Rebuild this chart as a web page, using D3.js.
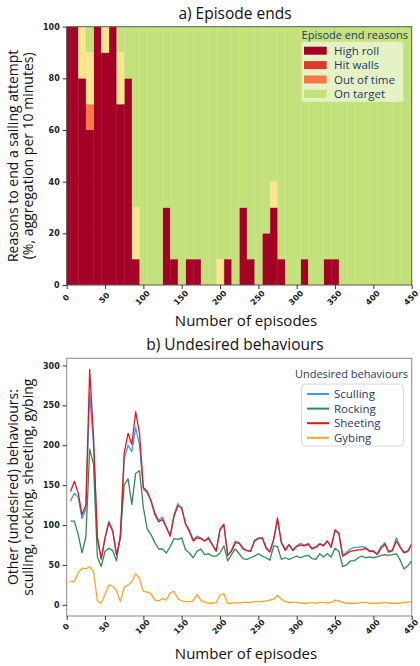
<!DOCTYPE html>
<html>
<head>
<meta charset="utf-8">
<script src="https://cdn.jsdelivr.net/npm/d3@7"></script>
<style>
  body { margin: 0; background: #fff; }
  text { font-family: "Open Sans", "Noto Sans", sans-serif; }
</style>
</head>
<body>
<svg id="chart" width="420" height="666"></svg>
<script>
// a) episode end reasons, one bar per 10 episodes (%)
const binEpisodes = [0, 10, 20, 30, 40, 50, 60, 70, 80, 90,
  100, 110, 120, 130, 140, 150, 160, 170, 180, 190,
  200, 210, 220, 230, 240, 250, 260, 270, 280, 290,
  300, 310, 320, 330, 340, 350, 360, 370, 380, 390,
  400, 410, 420, 430, 440, 450];
const highRoll = [100, 100, 80, 60, 100, 90, 100, 70, 80, 10,
  0, 0, 0, 30, 10, 0, 10, 10, 0, 0,
  0, 10, 0, 30, 10, 0, 20, 30, 10, 0,
  0, 10, 0, 0, 10, 10, 0, 0, 0, 0,
  0, 0, 0, 0, 0, 0];
const hitWalls = [0, 0, 0, 0, 0, 0, 0, 0, 0, 0,
  0, 0, 0, 0, 0, 0, 0, 0, 0, 0,
  0, 0, 0, 0, 0, 0, 0, 0, 0, 0,
  0, 0, 0, 0, 0, 0, 0, 0, 0, 0,
  0, 0, 0, 0, 0, 0];
const outOfTime = [0, 0, 0, 10, 0, 0, 0, 0, 0, 0,
  0, 0, 0, 0, 0, 0, 0, 0, 0, 0,
  0, 0, 0, 0, 0, 0, 0, 0, 0, 0,
  0, 0, 0, 0, 0, 0, 0, 0, 0, 0,
  0, 0, 0, 0, 0, 0];
// pale yellow band in the bars, not listed in the legend
const otherEnds = [0, 0, 20, 20, 0, 10, 0, 20, 0, 20,
  0, 0, 0, 0, 0, 0, 0, 0, 0, 0,
  10, 0, 0, 0, 0, 0, 0, 10, 0, 0,
  0, 0, 0, 0, 0, 0, 0, 0, 0, 0,
  0, 0, 0, 0, 0, 0];
const onTarget = [0, 0, 0, 10, 0, 0, 0, 10, 20, 70,
  100, 100, 100, 70, 90, 100, 90, 90, 100, 100,
  90, 90, 100, 70, 90, 100, 80, 60, 90, 100,
  100, 90, 100, 100, 90, 90, 100, 100, 100, 100,
  100, 100, 100, 100, 100, 100];

// b) undesired behaviours
const lineEpisodes = [5, 10, 15, 20, 25, 30, 35, 40, 45, 50,
  55, 60, 65, 70, 75, 80, 85, 90, 95, 100,
  105, 110, 115, 120, 125, 130, 135, 140, 145, 150,
  155, 160, 165, 170, 175, 180, 185, 190, 195, 200,
  205, 210, 215, 220, 225, 230, 235, 240, 245, 250,
  255, 260, 265, 270, 275, 280, 285, 290, 295, 300,
  305, 310, 315, 320, 325, 330, 335, 340, 345, 350,
  355, 360, 365, 370, 375, 380, 385, 390, 395, 400,
  405, 410, 415, 420, 425, 430, 435, 440, 445, 450];
const sculling = [130, 140, 135, 108, 120, 265, 200, 83, 57, 83,
  105, 94, 62, 83, 183, 200, 192, 222, 200, 145,
  140, 131, 116, 106, 110, 98, 87, 113, 127, 120,
  102, 94, 82, 86, 84, 80, 85, 76, 68, 94,
  100, 62, 69, 80, 78, 72, 68, 68, 81, 84,
  84, 73, 67, 82, 106, 78, 70, 76, 69, 74,
  77, 75, 77, 71, 73, 77, 75, 80, 73, 93,
  89, 62, 66, 70, 72, 72, 73, 72, 68, 68,
  64, 73, 78, 67, 69, 84, 73, 66, 68, 76];
const rocking = [105, 105, 88, 65, 85, 195, 176, 60, 48, 67,
  71, 68, 55, 88, 150, 158, 126, 165, 168, 122,
  95, 88, 78, 70, 70, 65, 73, 83, 82, 84,
  69, 65, 59, 67, 70, 63, 64, 61, 61, 65,
  74, 55, 63, 70, 64, 58, 57, 59, 61, 64,
  61, 59, 56, 74, 73, 57, 59, 57, 59, 61,
  59, 61, 62, 58, 57, 64, 60, 64, 60, 71,
  67, 48, 50, 55, 55, 59, 61, 59, 60, 59,
  60, 62, 63, 62, 63, 64, 56, 45, 49, 55];
const sheeting = [142, 155, 140, 113, 125, 295, 210, 85, 58, 84,
  103, 92, 63, 84, 190, 215, 201, 242, 215, 147,
  142, 130, 113, 104, 107, 97, 86, 111, 124, 122,
  101, 92, 80, 84, 83, 80, 83, 75, 67, 95,
  101, 62, 67, 78, 77, 70, 68, 67, 80, 83,
  84, 71, 66, 82, 109, 78, 68, 75, 68, 73,
  75, 74, 76, 70, 72, 76, 74, 80, 72, 94,
  90, 61, 64, 67, 68, 69, 69, 71, 67, 67,
  63, 71, 76, 66, 68, 80, 72, 65, 67, 76];
const gybing = [29, 29, 40, 46, 45, 48, 42, 5, 2, 13,
  25, 23, 18, 4, 22, 25, 29, 39, 33, 17,
  16, 14, 6, 5, 8, 6, 15, 17, 8, 5,
  4, 4, 5, 13, 6, 3, 2, 2, 3, 12,
  14, 2, 2, 3, 2, 3, 3, 3, 4, 4,
  4, 5, 6, 7, 12, 7, 4, 3, 3, 3,
  2, 2, 2, 3, 2, 3, 3, 2, 3, 6,
  5, 3, 2, 2, 2, 2, 3, 3, 2, 2,
  2, 2, 3, 2, 2, 2, 2, 3, 3, 4];

const xTicks = [0, 50, 100, 150, 200, 250, 300, 350, 400, 450];
const yTicksTop = [0, 20, 40, 60, 80, 100];
const yTicksBottom = [0, 50, 100, 150, 200, 250, 300];

const endKeys = ["highRoll", "hitWalls", "outOfTime", "otherEnds", "onTarget"];
const endColors = { highRoll: "#a50026", hitWalls: "#d93a2c", outOfTime: "#f67a48", otherEnds: "#fee590", onTarget: "#c3e27c" };
const endLegend = [["High roll", "highRoll"], ["Hit walls", "hitWalls"], ["Out of time", "outOfTime"], ["On target", "onTarget"]];

const behaviours = [
  { name: "Sculling", values: sculling, color: "#3d9be9" },
  { name: "Rocking", values: rocking, color: "#2e8b57" },
  { name: "Sheeting", values: sheeting, color: "#e3161d" },
  { name: "Gybing", values: gybing, color: "#f5a623" }
];

const navy = "#1f3864";
const svg = d3.select("#chart");

const left = 66.7, right = 411.7;
const top1 = 26.7, bottom1 = 285;
const top2 = 358.3, bottom2 = 616;

// tick label styling shared by both charts
function styleAxis(g, rotate, offset) {
  g.select(".domain").remove();
  g.selectAll(".tick line").attr("stroke", "#333");
  g.selectAll(".tick text")
    .attr("fill", "#222")
    .style("font-family", "'DejaVu Sans', sans-serif")
    .style("font-weight", "bold")
    .style("font-size", "8px");
  if (rotate) {
    g.selectAll(".tick text")
      .attr("x", 0).attr("y", 0).attr("dy", null)
      .attr("text-anchor", "middle")
      .attr("dominant-baseline", "central")
      .attr("transform", `translate(-1,${offset}) rotate(-45)`);
  }
}

// ---------- a) Episode ends ----------
const x1 = d3.scaleLinear().domain([0, 450]).range([left, right]);
const y1 = d3.scaleLinear().domain([0, 100]).range([bottom1, top1]);

svg.append("clipPath").attr("id", "clip1")
  .append("rect").attr("x", left).attr("y", top1)
  .attr("width", right - left).attr("height", bottom1 - top1);

const table = binEpisodes.map((e, i) => ({
  episode: e, highRoll: highRoll[i], hitWalls: hitWalls[i],
  outOfTime: outOfTime[i], otherEnds: otherEnds[i], onTarget: onTarget[i]
}));
const stacked = d3.stack().keys(endKeys)(table);

const bars = svg.append("g").attr("clip-path", "url(#clip1)");
stacked.forEach(layer => {
  bars.selectAll(null).data(layer).enter().append("rect")
    .attr("x", d => x1(d.data.episode - 5))
    .attr("width", d => x1(d.data.episode + 5) - x1(d.data.episode - 5) + 0.3)
    .attr("y", d => y1(d[1]))
    .attr("height", d => y1(d[0]) - y1(d[1]))
    .attr("fill", endColors[layer.key]);
});

svg.append("rect").attr("x", left).attr("y", top1)
  .attr("width", right - left).attr("height", bottom1 - top1)
  .attr("fill", "none").attr("stroke", "#555").attr("stroke-width", 1);

svg.append("g").attr("transform", `translate(0,${bottom1})`)
  .call(d3.axisBottom(x1).tickValues(xTicks).tickSize(4).tickSizeOuter(0))
  .call(g => styleAxis(g, true, 13));
svg.append("g").attr("transform", `translate(${left},0)`)
  .call(d3.axisLeft(y1).tickValues(yTicksTop).tickSize(4).tickSizeOuter(0))
  .call(g => styleAxis(g, false));

svg.append("text").attr("x", 235).attr("y", 19).attr("text-anchor", "middle")
  .style("font-size", "15.5px").attr("fill", "#111").text("a) Episode ends");
svg.append("text").attr("x", 246).attr("y", 326).attr("text-anchor", "middle")
  .style("font-size", "15px").attr("fill", "#111").text("Number of episodes");
svg.append("text").attr("transform", `translate(18,${(top1 + bottom1) / 2}) rotate(-90)`)
  .attr("text-anchor", "middle").style("font-size", "14px").attr("fill", "#111")
  .text("Reasons to end a sailing attempt");
svg.append("text").attr("transform", `translate(33,${(top1 + bottom1) / 2}) rotate(-90)`)
  .attr("text-anchor", "middle").style("font-size", "14px").attr("fill", "#111")
  .text("(%, aggregation per 10 minutes)");

// legend a
const leg1 = svg.append("g");
leg1.append("text").attr("x", 408).attr("y", 38.5).attr("text-anchor", "end")
  .style("font-size", "11px").attr("fill", navy).text("Episode end reasons");
leg1.append("rect").attr("x", 301.7).attr("y", 41.7).attr("width", 101.6).attr("height", 60)
  .attr("rx", 2).attr("fill", "rgba(255,255,255,0.55)");
endLegend.forEach(([label, key], i) => {
  const cy = 50.7 + i * 14.4;
  leg1.append("rect").attr("x", 304).attr("y", cy - 4).attr("width", 22.7).attr("height", 8)
    .attr("fill", endColors[key]);
  leg1.append("text").attr("x", 334).attr("y", cy + 4)
    .style("font-size", "11.5px").attr("fill", navy).text(label);
});

// ---------- b) Undesired behaviours ----------
const x2 = d3.scaleLinear().domain([0, 450]).range([left, right]);
const y2 = d3.scaleLinear().domain([-14, 309]).range([bottom2, top2]);

const line = d3.line().x((d, i) => x2(lineEpisodes[i])).y(d => y2(d));
behaviours.forEach(b => {
  svg.append("path").datum(b.values)
    .attr("d", line).attr("fill", "none")
    .attr("stroke", b.color).attr("stroke-width", 1.3)
    .attr("stroke-linejoin", "round");
});

svg.append("rect").attr("x", left).attr("y", top2)
  .attr("width", right - left).attr("height", bottom2 - top2)
  .attr("fill", "none").attr("stroke", "#888").attr("stroke-width", 1);

svg.append("g").attr("transform", `translate(0,${bottom2})`)
  .call(d3.axisBottom(x2).tickValues(xTicks).tickSize(4).tickSizeOuter(0))
  .call(g => styleAxis(g, true, 11));
svg.append("g").attr("transform", `translate(${left},0)`)
  .call(d3.axisLeft(y2).tickValues(yTicksBottom).tickSize(4).tickSizeOuter(0))
  .call(g => styleAxis(g, false));

svg.append("text").attr("x", 235).attr("y", 350).attr("text-anchor", "middle")
  .style("font-size", "15.5px").attr("fill", "#111").text("b) Undesired behaviours");
svg.append("text").attr("x", 246).attr("y", 659).attr("text-anchor", "middle")
  .style("font-size", "15px").attr("fill", "#111").text("Number of episodes");
svg.append("text").attr("transform", `translate(18,${(top2 + bottom2) / 2}) rotate(-90)`)
  .attr("text-anchor", "middle").style("font-size", "14px").attr("fill", "#111")
  .text("Other (undesired) behaviours:");
svg.append("text").attr("transform", `translate(33,${(top2 + bottom2) / 2}) rotate(-90)`)
  .attr("text-anchor", "middle").style("font-size", "14px").attr("fill", "#111")
  .text("sculling, rocking, sheeting, gybing");

// legend b
const leg2 = svg.append("g");
leg2.append("text").attr("x", 408).attr("y", 377.5).attr("text-anchor", "end")
  .style("font-size", "11px").attr("fill", navy).text("Undesired behaviours");
leg2.append("rect").attr("x", 301.7).attr("y", 384).attr("width", 101.6).attr("height", 62)
  .attr("rx", 3).attr("fill", "#fff").attr("stroke", "#d6d6d6");
behaviours.forEach((b, i) => {
  const cy = 394 + i * 14.6;
  leg2.append("line").attr("x1", 307).attr("x2", 329).attr("y1", cy).attr("y2", cy)
    .attr("stroke", b.color).attr("stroke-width", 2);
  leg2.append("text").attr("x", 334).attr("y", cy + 4)
    .style("font-size", "11.5px").attr("fill", navy).text(b.name);
});
</script>
</body>
</html>
